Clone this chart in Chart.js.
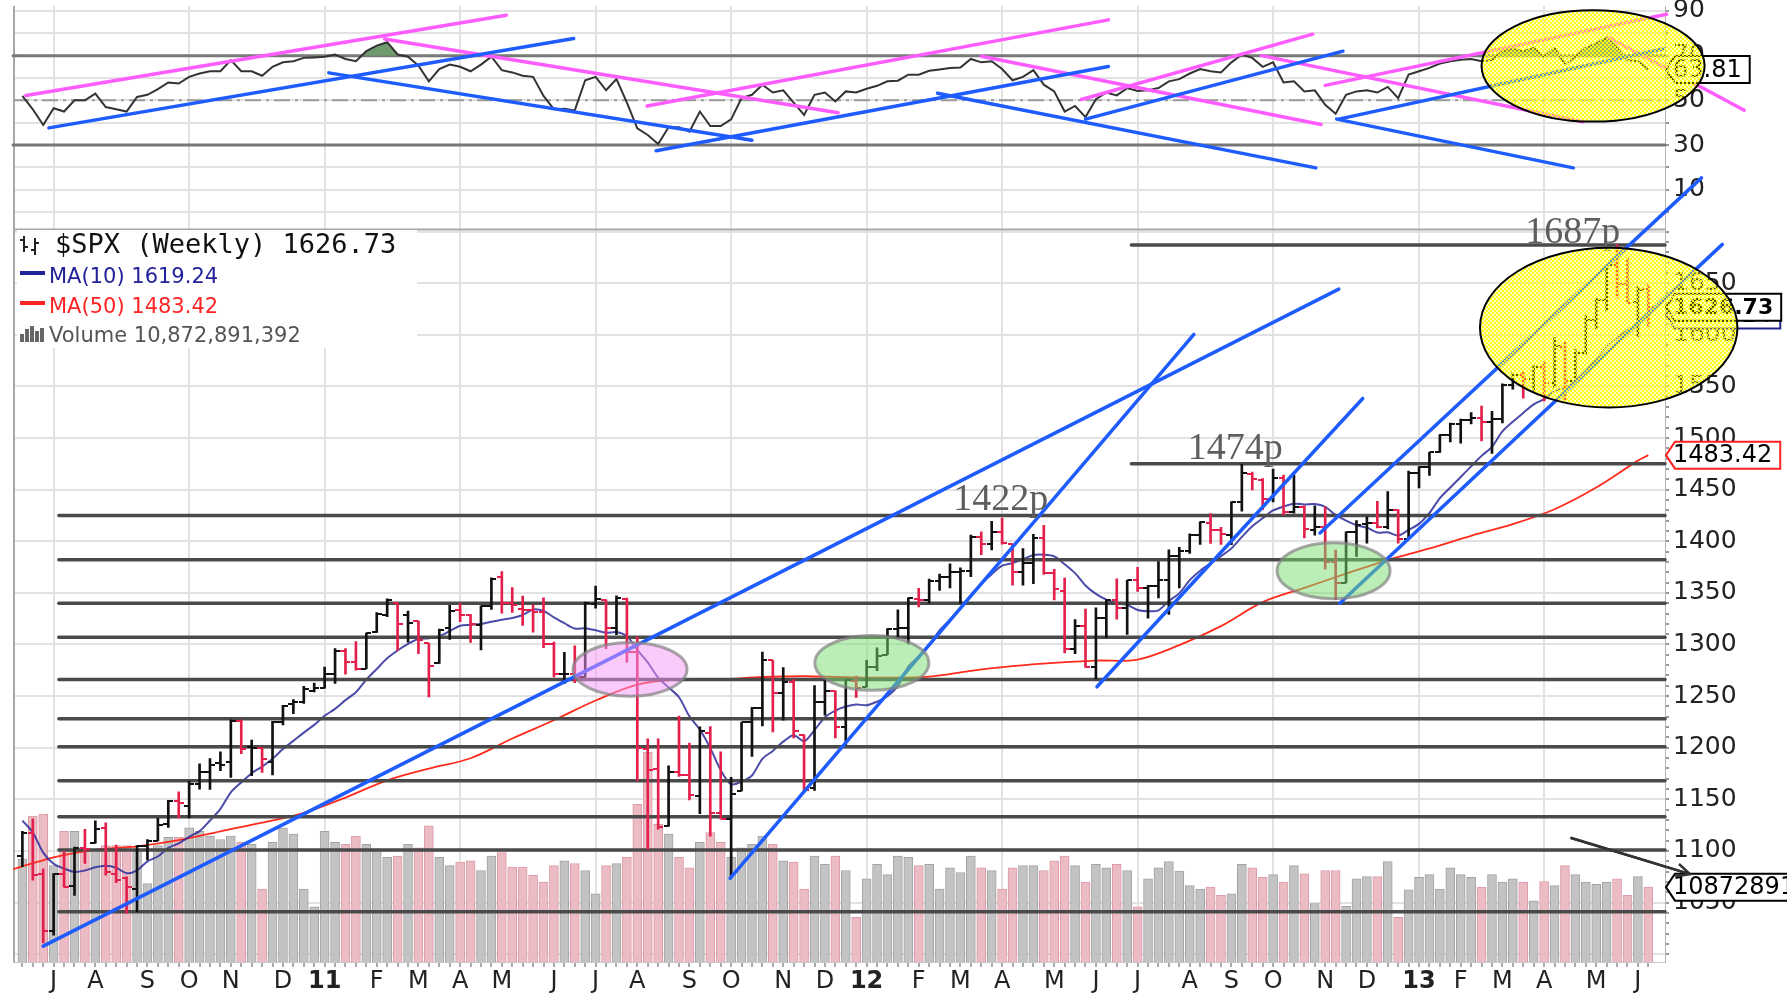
<!DOCTYPE html>
<html>
<head>
<meta charset="utf-8">
<title>$SPX Weekly</title>
<script src="https://cdn.jsdelivr.net/npm/chart.js@4.4.1/dist/chart.umd.min.js"></script>
<style>
  html, body { margin: 0; padding: 0; background: #fff; }
  canvas { display: block; }
</style>
</head>
<body>
<canvas id="spx" width="1787" height="997"></canvas>
<script>
// week index 0 = week ending 2 Jul 2010; series run from -2 (18 Jun 2010) to 154 (14 Jun 2013)
const firstWeek = -2;
const priorClose = 1091.6;

const opens = [
  1095.0, 1117.4, 1077.5, 1022.1, 1077.2, 1066.0, 1102.9, 1107.5, 1122.1, 1077.6,
  1073.4, 1062.9, 1104.6, 1110.0, 1126.4, 1148.6, 1144.0, 1165.3, 1176.8, 1184.7,
  1185.7, 1225.6, 1200.4, 1199.8, 1186.6, 1225.0, 1242.5, 1243.9, 1254.7, 1257.6,
  1271.5, 1293.2, 1283.3, 1276.5, 1311.9, 1328.7, 1340.4, 1328.6, 1322.7, 1301.2,
  1281.7, 1315.5, 1333.6, 1329.0, 1319.1, 1337.1, 1365.2, 1340.2, 1334.8, 1333.1,
  1331.1, 1300.3, 1271.2, 1271.5, 1268.4, 1339.6, 1343.3, 1315.9, 1344.3, 1292.6,
  1198.5, 1179.0, 1123.9, 1176.7, 1173.6, 1153.5, 1214.0, 1136.9, 1131.2, 1158.2,
  1224.5, 1238.7, 1284.6, 1253.2, 1263.9, 1212.5, 1161.4, 1244.3, 1255.1, 1219.7,
  1265.0, 1258.9, 1277.8, 1290.2, 1315.3, 1316.2, 1344.3, 1343.1, 1361.2, 1365.2,
  1370.0, 1370.8, 1404.2, 1397.1, 1408.5, 1397.5, 1370.3, 1378.9, 1403.3, 1368.8,
  1351.9, 1295.2, 1317.8, 1278.0, 1325.7, 1342.6, 1334.9, 1362.3, 1354.7, 1356.5,
  1362.3, 1385.9, 1391.0, 1405.9, 1418.1, 1411.1, 1406.5, 1437.9, 1465.4, 1459.5,
  1440.9, 1460.9, 1428.8, 1433.2, 1411.3, 1414.0, 1379.9, 1359.9, 1409.2, 1416.3,
  1418.1, 1413.5, 1430.2, 1402.4, 1466.5, 1472.1, 1486.0, 1503.0, 1513.2, 1517.9,
  1519.8, 1515.6, 1518.2, 1551.2, 1560.7, 1556.9, 1569.2, 1553.3, 1588.6, 1555.3,
  1582.3, 1614.4, 1633.7, 1667.5, 1649.6, 1631.7, 1644.0
];
const highs = [
  1119.1, 1131.2, 1082.6, 1078.0, 1099.1, 1103.7, 1120.9, 1129.2, 1127.2, 1105.7,
  1075.0, 1105.1, 1110.9, 1131.5, 1148.9, 1157.2, 1167.7, 1184.4, 1189.4, 1196.1,
  1227.1, 1226.8, 1207.4, 1200.0, 1225.6, 1241.0, 1246.7, 1259.4, 1262.6, 1278.2,
  1296.0, 1296.1, 1302.7, 1311.0, 1330.8, 1344.1, 1340.4, 1332.3, 1322.7, 1301.2,
  1314.8, 1337.9, 1339.5, 1329.0, 1337.5, 1364.6, 1370.6, 1355.0, 1346.8, 1338.5,
  1345.2, 1302.2, 1292.5, 1298.6, 1341.0, 1356.5, 1343.3, 1347.0, 1345.0, 1307.4,
  1208.5, 1208.5, 1182.5, 1230.7, 1204.4, 1220.1, 1220.4, 1195.9, 1171.4, 1224.6,
  1239.0, 1292.7, 1284.6, 1277.6, 1266.0, 1212.5, 1260.1, 1267.1, 1255.1, 1265.4,
  1269.4, 1284.6, 1296.8, 1315.5, 1333.5, 1345.3, 1354.3, 1363.4, 1368.1, 1378.0,
  1374.2, 1406.0, 1409.0, 1419.2, 1422.4, 1397.5, 1392.8, 1406.6, 1415.3, 1372.9,
  1364.4, 1324.2, 1334.4, 1335.5, 1343.3, 1363.5, 1362.2, 1374.8, 1357.4, 1380.4,
  1391.7, 1394.2, 1407.1, 1418.7, 1426.7, 1413.5, 1438.2, 1474.5, 1467.1, 1460.7,
  1470.0, 1464.0, 1464.0, 1434.2, 1434.3, 1433.4, 1391.4, 1409.2, 1420.0, 1423.7,
  1438.6, 1448.0, 1430.7, 1467.9, 1472.3, 1486.2, 1503.3, 1514.4, 1518.3, 1524.7,
  1530.9, 1525.8, 1552.5, 1563.6, 1564.0, 1570.3, 1573.7, 1597.4, 1593.0, 1585.6,
  1618.5, 1635.0, 1667.5, 1687.2, 1674.2, 1646.5, 1648.7
];
const lows = [
  1084.8, 1071.6, 1010.9, 1018.4, 1064.9, 1056.9, 1088.0, 1107.5, 1076.6, 1069.2,
  1039.7, 1040.9, 1091.4, 1110.0, 1122.8, 1131.9, 1131.9, 1159.9, 1159.7, 1177.7,
  1171.2, 1194.1, 1173.0, 1176.0, 1173.6, 1222.0, 1232.9, 1243.0, 1254.0, 1257.6,
  1262.2, 1271.3, 1275.1, 1276.5, 1311.7, 1326.9, 1294.3, 1302.3, 1291.0, 1249.1,
  1281.7, 1304.9, 1322.0, 1302.1, 1294.7, 1334.0, 1330.4, 1331.0, 1318.5, 1311.8,
  1297.0, 1268.5, 1262.0, 1262.9, 1268.4, 1335.2, 1295.9, 1309.6, 1282.9, 1168.1,
  1101.5, 1121.1, 1123.9, 1172.1, 1149.4, 1136.2, 1114.2, 1131.1, 1074.8, 1158.2,
  1191.5, 1221.1, 1215.4, 1226.6, 1209.4, 1158.7, 1158.7, 1231.5, 1209.5, 1202.4,
  1248.6, 1258.9, 1274.7, 1290.2, 1306.1, 1300.5, 1336.4, 1340.0, 1352.3, 1354.9,
  1340.0, 1365.8, 1386.9, 1391.6, 1397.1, 1357.4, 1357.4, 1358.8, 1367.8, 1343.1,
  1291.9, 1291.0, 1277.8, 1266.7, 1306.6, 1324.4, 1309.7, 1351.5, 1325.4, 1345.1,
  1329.2, 1354.7, 1388.1, 1397.0, 1398.0, 1397.0, 1396.6, 1429.1, 1449.6, 1430.5,
  1438.1, 1425.5, 1427.2, 1403.3, 1405.9, 1373.0, 1343.4, 1359.9, 1385.4, 1398.2,
  1413.0, 1411.9, 1398.1, 1402.4, 1451.6, 1463.8, 1486.0, 1496.3, 1495.0, 1513.6,
  1497.3, 1485.0, 1514.7, 1547.4, 1538.6, 1546.2, 1536.0, 1548.7, 1536.0, 1555.3,
  1581.3, 1605.9, 1622.9, 1635.5, 1630.7, 1598.2, 1608.0
];
const closes = [
  1117.5, 1076.8, 1022.6, 1078.0, 1064.9, 1102.7, 1101.6, 1121.6, 1079.3, 1071.7,
  1064.6, 1104.5, 1109.6, 1125.6, 1148.7, 1146.2, 1165.2, 1176.2, 1183.1, 1183.3,
  1225.9, 1199.2, 1199.7, 1189.4, 1224.7, 1240.4, 1243.9, 1256.8, 1257.6, 1271.5,
  1293.2, 1283.4, 1276.3, 1310.9, 1329.2, 1343.0, 1319.9, 1321.2, 1304.3, 1279.2,
  1313.8, 1332.4, 1328.2, 1319.7, 1337.4, 1363.6, 1340.2, 1337.8, 1333.3, 1331.1,
  1300.2, 1271.0, 1271.5, 1268.5, 1339.7, 1343.8, 1316.1, 1345.0, 1292.3, 1199.4,
  1178.8, 1123.5, 1176.8, 1174.0, 1154.2, 1216.0, 1136.4, 1131.4, 1155.5, 1224.6,
  1238.3, 1285.1, 1253.2, 1263.9, 1215.7, 1158.7, 1244.3, 1255.2, 1219.7, 1265.3,
  1257.6, 1277.8, 1289.1, 1315.4, 1316.3, 1344.9, 1342.6, 1361.2, 1365.7, 1370.0,
  1370.9, 1404.2, 1397.1, 1408.5, 1398.1, 1370.3, 1378.5, 1403.4, 1369.1, 1353.4,
  1295.2, 1317.8, 1278.0, 1325.7, 1342.8, 1335.0, 1362.2, 1354.7, 1356.8, 1362.7,
  1386.0, 1391.0, 1405.9, 1418.2, 1411.1, 1406.6, 1437.9, 1465.8, 1460.2, 1440.7,
  1460.9, 1428.6, 1433.2, 1411.9, 1414.2, 1379.9, 1359.9, 1409.2, 1416.2, 1418.1,
  1413.6, 1430.2, 1402.4, 1466.5, 1472.1, 1486.0, 1503.0, 1513.2, 1517.9, 1519.8,
  1515.6, 1518.2, 1551.2, 1560.7, 1556.9, 1569.2, 1553.3, 1588.9, 1555.3, 1582.2,
  1614.4, 1633.7, 1667.5, 1649.6, 1630.7, 1643.4, 1626.7
];
// weekly volume, billions of shares
const volume = [
  15.0, 21.2, 21.5, 14.0, 19.0, 19.0, 16.2, 16.4, 16.9, 16.9,
  16.9, 16.4, 11.4, 16.9, 18.1, 18.1, 19.5, 19.0, 18.3, 17.8,
  18.3, 17.4, 17.1, 10.6, 17.4, 19.5, 18.6, 10.6, 8.0, 19.0,
  17.4, 17.1, 18.3, 17.1, 16.4, 15.2, 15.4, 17.1, 16.6, 19.8,
  15.2, 14.0, 14.5, 14.7, 13.3, 15.4, 15.9, 13.8, 13.8, 12.6,
  11.6, 14.0, 14.7, 14.3, 13.3, 9.9, 14.0, 14.3, 15.2, 22.9,
  30.5, 20.0, 18.6, 15.2, 13.7, 17.4, 18.8, 17.4, 15.2, 16.6,
  17.1, 18.3, 17.1, 14.7, 14.5, 10.6, 15.4, 14.2, 15.4, 13.3,
  6.5, 12.1, 14.2, 12.7, 15.4, 15.2, 14.0, 14.2, 10.6, 13.7,
  13.0, 15.4, 13.7, 13.3, 10.6, 13.7, 14.0, 14.0, 13.3, 14.7,
  15.4, 14.0, 11.6, 14.2, 13.7, 14.2, 13.3, 8.0, 12.1, 13.7,
  14.6, 13.2, 11.1, 10.6, 10.9, 9.7, 9.9, 14.2, 13.7, 12.3,
  12.7, 11.6, 14.0, 12.8, 8.5, 13.3, 13.3, 8.1, 12.1, 12.4,
  12.4, 14.6, 6.5, 10.5, 12.3, 12.7, 10.6, 13.7, 12.7, 12.3,
  10.9, 12.7, 11.6, 12.1, 11.6, 8.9, 11.7, 11.1, 14.0, 12.7,
  11.6, 11.3, 11.6, 12.1, 9.7, 12.4, 10.87
];
const ma10 = [
  1129.4, 1117.9, 1098.4, 1087.5, 1082.9, 1079.6, 1081.0, 1084.2, 1085.7, 1083.7,
  1078.4, 1081.2, 1089.9, 1094.6, 1103.0, 1107.3, 1113.7, 1119.2, 1129.5, 1140.7,
  1156.8, 1166.3, 1175.3, 1181.7, 1189.3, 1198.7, 1206.6, 1214.6, 1222.1, 1230.9,
  1237.6, 1246.1, 1253.7, 1265.9, 1276.3, 1286.6, 1294.2, 1300.6, 1305.3, 1306.1,
  1308.1, 1313.0, 1318.2, 1319.1, 1319.9, 1322.0, 1324.0, 1325.7, 1328.6, 1333.8,
  1332.4, 1326.3, 1320.6, 1315.5, 1315.7, 1313.7, 1311.3, 1312.0, 1307.9, 1294.8,
  1282.6, 1267.9, 1258.4, 1248.9, 1230.4, 1217.6, 1199.6, 1178.3, 1164.6, 1167.1,
  1173.1, 1189.2, 1196.9, 1205.9, 1212.0, 1206.3, 1217.1, 1229.5, 1235.9, 1239.9,
  1241.9, 1241.1, 1244.7, 1249.9, 1259.9, 1278.6, 1288.4, 1299.0, 1313.6, 1324.1,
  1335.4, 1348.0, 1358.8, 1368.1, 1376.3, 1378.9, 1382.5, 1386.7, 1387.0, 1385.4,
  1377.8, 1369.1, 1357.2, 1349.0, 1343.4, 1339.9, 1338.3, 1333.4, 1332.2, 1333.1,
  1342.2, 1349.5, 1362.3, 1371.5, 1378.4, 1385.5, 1393.1, 1404.2, 1414.5, 1422.3,
  1429.8, 1433.6, 1436.3, 1435.7, 1436.0, 1433.3, 1425.5, 1419.9, 1415.5, 1413.2,
  1408.5, 1408.6, 1405.6, 1411.0, 1416.8, 1427.4, 1441.7, 1452.1, 1462.3, 1472.5,
  1482.7, 1491.5, 1506.4, 1515.8, 1524.3, 1532.6, 1537.6, 1545.2, 1548.9, 1555.2,
  1565.0, 1576.6, 1588.2, 1597.1, 1604.5, 1611.9, 1619.24
];
const ma50Weeks = [-3, 1, 5, 9, 13, 17, 21, 25, 29, 33, 37, 41, 45, 49, 53, 57, 61, 65, 69, 73, 77,
  81, 85, 89, 93, 97, 101, 105, 109, 113, 117, 121, 125, 129, 133, 137, 141, 145, 149, 153, 154];
const ma50 = [1081.9, 1093.8, 1101.1, 1104.4, 1110.4, 1119.0, 1127.4, 1136.9, 1151.7, 1168.3, 1179.7,
  1189.8, 1208.9, 1226.6, 1245.7, 1261.2, 1266.2, 1266.2, 1268.5, 1269.2, 1268.3, 1267.8, 1268.9,
  1274.5, 1279.0, 1282.2, 1284.4, 1285.4, 1299.4, 1317.8, 1341.0, 1354.8, 1368.6, 1381.8, 1393.0,
  1405.3, 1416.6, 1431.0, 1452.0, 1478.1, 1483.42];
const rsi = [
  52, 46, 39, 46.5, 45, 50, 50, 53, 47, 46,
  45, 51.5, 52.5, 55, 58, 57.5, 60.5, 62, 63, 63,
  68, 63, 63, 61, 65, 67, 67.5, 69, 69.2, 69.5,
  70.5, 68.5, 67.5, 72, 74.5, 76, 70.5, 69.5, 65.5, 58.5,
  64, 66, 65, 63, 66, 69.5, 63.5, 62.5, 61, 60.5,
  52, 46, 46.2, 45.5, 59, 60.5, 54.5, 59.5, 49, 37.5,
  34.5, 30.5, 38, 38, 36, 45, 38.5, 38.5, 41.5, 51,
  52.5, 57, 53.5, 54.5, 49, 43.5, 52.5, 53.5, 49.5, 54,
  53.5, 55.2, 56.5, 58.5, 58.8, 61.5, 61.5, 63.2, 63.8, 64.5,
  64.7, 68.5, 67, 67.5, 64, 59, 60.5, 63.5, 57, 54,
  45, 47.5, 42.5, 50.5, 53.5, 52.2, 55.5, 54.2, 54.5, 55.5,
  58.5, 59.5, 62, 64, 63, 62.5, 67, 70.5, 69, 65,
  67, 58, 58.5, 54, 54.5, 48, 44, 52.5, 54, 54.5,
  53.5, 56, 51, 61.5, 63, 64.5, 66.5, 67.5, 68.2, 68.5,
  67.5, 68, 72, 73, 72, 73.5, 69.5, 73.5, 66, 69.5,
  73.5, 75.5, 78, 73.5, 68, 67.5, 63.81
];

// x-axis: first weekly bar of each month
const monthTicks = [[1, 'J'], [5, 'A'], [10, 'S'], [14, 'O'], [18, 'N'], [23, 'D'], [27, '11'], [32, 'F'],
  [36, 'M'], [40, 'A'], [44, 'M'], [49, 'J'], [53, 'J'], [57, 'A'], [62, 'S'], [66, 'O'], [71, 'N'],
  [75, 'D'], [79, '12'], [84, 'F'], [88, 'M'], [92, 'A'], [97, 'M'], [101, 'J'], [105, 'J'], [110, 'A'],
  [114, 'S'], [118, 'O'], [123, 'N'], [127, 'D'], [132, '13'], [136, 'F'], [140, 'M'], [144, 'A'],
  [149, 'M'], [153, 'J']];
const quarterWeeks = [1, 14, 27, 40, 53, 66, 79, 92, 105, 118, 132, 144];
const yearWeeks = [27, 79, 132];
const priceLabels = [1050, 1100, 1150, 1200, 1250, 1300, 1350, 1400, 1450, 1500, 1550, 1600, 1650];
const rsiLabels = [10, 30, 50, 70, 90];
const rsiGrid = [0, 10, 20, 30, 40, 50, 60, 70, 80, 90];

// drawn levels and trendlines: [week, value]
const levels = [1425, 1382, 1340, 1307, 1266, 1228, 1201, 1168, 1133, 1101, 1041];
const lateLevels = [1475, 1687];
const levelStart = 1.5, lateStart = 104.4;
const priceTrends = [
  [[0.0, 1007.8], [124.3, 1644.2]],
  [[65.9, 1073.5], [110.4, 1600.3]],
  [[101.1, 1259.0], [126.6, 1538.3]],
  [[122.5, 1408.0], [159.1, 1752.0]],
  [[124.4, 1340.0], [161.1, 1687.6]]
];
const rsiPinkTrends = [
  [[-1.67, 52.2], [44.43, 88.1]],
  [[32.75, 77.4], [76.27, 44.5]],
  [[57.93, 47.5], [102.2, 86.0]],
  [[90.0, 69.7], [122.6, 39.2]],
  [[99.6, 50.4], [121.8, 79.6]],
  [[116.9, 70.0], [147.7, 40.4]],
  [[123.0, 56.7], [155.75, 88.5]],
  [[150.2, 78.1], [163.2, 45.6]]
];
const rsiBlueTrends = [
  [[0.54, 37.7], [50.9, 77.7]],
  [[27.4, 62.3], [68.0, 32.2]],
  [[58.8, 27.5], [102.2, 65.1]],
  [[85.8, 53.2], [122.1, 19.8]],
  [[100.0, 41.6], [124.7, 72.0]],
  [[124.1, 41.6], [146.8, 19.8]],
  [[124.3, 41.6], [155.5, 73.1]]
];
const arrowPts = [[146.6, 1112.5], [158.0, 1077.5]];

const peakNotes = [
  {text: '1422p', x: 87.3, y: 1430.5},
  {text: '1474p', x: 109.8, y: 1480},
  {text: '1687p', x: 142.2, y: 1689}
];
const ellipses = [
  {axis: 'yRsi', x: 148.7, y: 65.4, rx: 10.7, ry: 24.9, kind: 'dots'},
  {axis: 'yPrice', x: 150.2, y: 1606.9, rx: 12.35, ry: 77.3, kind: 'dots'},
  {axis: 'yPrice', x: 56.3, y: 1275.9, rx: 5.47, ry: 26.0, kind: 'pink'},
  {axis: 'yPrice', x: 79.5, y: 1282.1, rx: 5.47, ry: 26.5, kind: 'green'},
  {axis: 'yPrice', x: 123.8, y: 1371.4, rx: 5.42, ry: 27.2, kind: 'green'}
];
const valueTags = [
  {axis: 'yRsi', value: 63.81, text: '63.81', edge: '#000', bold: false},
  {axis: 'yPrice', value: 1619.24, text: '1619.24', edge: '#22228c', bold: false},
  {axis: 'yPrice', value: 1626.73, text: '1626.73', edge: '#000', bold: true},
  {axis: 'yPrice', value: 1483.42, text: '1483.42', edge: '#ff2020', bold: false},
  {axis: 'yVol', value: 10.872891392, text: '10872891392', edge: '#000', bold: false}
];
const legendTitle = '$SPX (Weekly) 1626.73';
const legendMa10 = 'MA(10) 1619.24';
const legendMa50 = 'MA(50) 1483.42';
const legendVol = 'Volume 10,872,891,392';

// axis ranges
const xMin = -2.9, xMax = 155.6;
const rsiMin = -7.8, rsiMax = 92.2;
const priceMin = 992.4, priceMax = 1701.9;
const volMax = 138.9;
const axisWidth = 122;

const barBlack = '#111111', barRed = '#e3204b';
const blue = '#1f5cff', magenta = '#ff5cff';

Chart.defaults.font.family = '"DejaVu Sans", sans-serif';
Chart.defaults.color = '#222';

const weeks = closes.map((c, k) => firstWeek + k);
const isUp = closes.map((c, k) => c >= (k === 0 ? priorClose : closes[k - 1]));
const monthLabel = new Map(monthTicks);
const priceMinor = [];
for (let v = 1000; v <= 1700; v += 10) priceMinor.push(v);

const pts = (xs, ys) => xs.map((x, k) => ({x, y: ys[k]}));

function tickImg(color, left) {
  const c = document.createElement('canvas');
  c.width = 10; c.height = 2;
  const g = c.getContext('2d');
  g.fillStyle = color;
  g.fillRect(left ? 0 : 5, 0, 5, 2);
  return c;
}
const openBlack = tickImg(barBlack, true), openRed = tickImg(barRed, true);
const closeBlack = tickImg(barBlack, false), closeRed = tickImg(barRed, false);

function segment(p, axis, color, width, order) {
  return {
    type: 'line', yAxisID: axis, data: p.map(q => ({x: q[0], y: q[1]})),
    borderColor: color, borderWidth: width, pointRadius: 0, clip: false,
    borderCapStyle: 'round', order
  };
}

const datasets = [];
datasets.push({
  type: 'bar', label: 'Volume', yAxisID: 'yVol', data: pts(weeks, volume),
  backgroundColor: isUp.map(u => u ? '#c3c3c3' : '#ecbcc4'),
  borderColor: isUp.map(u => u ? '#a3a3a3' : '#dc9aa6'),
  borderWidth: 1, barThickness: 9, maxBarThickness: 9, grouped: false, order: 100
});
datasets.push({
  type: 'line', label: 'MA(50)', yAxisID: 'yPrice', data: pts(ma50Weeks, ma50),
  borderColor: '#ff2b1c', borderWidth: 1.8, pointRadius: 0, tension: 0.35, order: 60
});
datasets.push({
  type: 'line', label: 'MA(10)', yAxisID: 'yPrice', data: pts(weeks, ma10),
  borderColor: 'rgba(43,43,154,0.85)', borderWidth: 2, pointRadius: 0, tension: 0.3, order: 59
});
levels.forEach(v => datasets.push(segment([[levelStart, v], [xMax, v]], 'yPrice', '#4a4a4a', 3.5, 40)));
lateLevels.forEach(v => datasets.push(segment([[lateStart, v], [xMax, v]], 'yPrice', '#4a4a4a', 3.5, 40)));
datasets.push({
  type: 'bar', label: '$SPX', yAxisID: 'yPrice',
  data: weeks.map((w, k) => ({x: w, y: [lows[k], highs[k]]})),
  backgroundColor: isUp.map(u => u ? barBlack : barRed),
  borderWidth: 0, barThickness: 2, maxBarThickness: 2, grouped: false, order: 30
});
datasets.push({
  type: 'line', label: 'Open', yAxisID: 'yPrice', showLine: false, data: pts(weeks, opens),
  pointStyle: isUp.map(u => u ? openBlack : openRed), pointRadius: 5, order: 29
});
datasets.push({
  type: 'line', label: 'Close', yAxisID: 'yPrice', showLine: false, data: pts(weeks, closes),
  pointStyle: isUp.map(u => u ? closeBlack : closeRed), pointRadius: 5, order: 29
});
// RSI panel
[70, 30].forEach(v => datasets.push(segment([[xMin, v], [xMax, v]], 'yRsi', '#777', 3, 55)));
datasets.push(Object.assign(segment([[xMin, 50], [xMax, 50]], 'yRsi', '#9a9a9a', 2, 55),
  {borderDash: [16, 5, 3, 5], borderCapStyle: 'butt'}));
datasets.push({
  type: 'line', label: 'RSI(14)', yAxisID: 'yRsi', data: pts(weeks, rsi),
  borderColor: '#333', borderWidth: 2, pointRadius: 0,
  fill: {target: {value: 70}, above: '#6f9b6f', below: 'rgba(0,0,0,0)'}, order: 50
});
rsiPinkTrends.forEach(p => datasets.push(segment(p, 'yRsi', magenta, 3.5, 12)));
rsiBlueTrends.forEach(p => datasets.push(segment(p, 'yRsi', blue, 3.5, 11)));
priceTrends.forEach(p => datasets.push(segment(p, 'yPrice', blue, 3.5, 10)));
datasets.push(segment(arrowPts, 'yPrice', '#333', 2.5, 5));

function drawTag(ctx, x, y, t) {
  ctx.save();
  ctx.font = t.bold ? 'bold 22px "DejaVu Sans"' : '24px "DejaVu Sans"';
  const w = ctx.measureText(t.text).width;
  const h = 27, tip = 9, x1 = x + 7 + w + 8;
  ctx.beginPath();
  ctx.moveTo(x, y);
  ctx.lineTo(x + tip, y - h / 2);
  ctx.lineTo(x1, y - h / 2);
  ctx.lineTo(x1, y + h / 2);
  ctx.lineTo(x + tip, y + h / 2);
  ctx.closePath();
  ctx.fillStyle = '#fff';
  ctx.fill();
  ctx.lineWidth = 2;
  ctx.strokeStyle = t.edge;
  ctx.stroke();
  ctx.fillStyle = '#000';
  ctx.textBaseline = 'middle';
  ctx.textAlign = 'left';
  ctx.fillText(t.text, x + 7, y + 1);
  ctx.restore();
}

function drawLegend(ctx, a) {
  ctx.save();
  ctx.textAlign = 'left';
  ctx.textBaseline = 'alphabetic';
  ctx.fillStyle = '#fff';
  ctx.fillRect(a.left + 4, 230, 400, 118);
  // OHLC glyph
  ctx.strokeStyle = '#222'; ctx.lineWidth = 2;
  ctx.beginPath();
  ctx.moveTo(24, 236); ctx.lineTo(24, 252); ctx.moveTo(20, 240); ctx.lineTo(24, 240); ctx.moveTo(24, 247); ctx.lineTo(28, 247);
  ctx.moveTo(35, 238); ctx.lineTo(35, 255); ctx.moveTo(31, 250); ctx.lineTo(35, 250); ctx.moveTo(35, 243); ctx.lineTo(39, 243);
  ctx.stroke();
  ctx.font = '27px "DejaVu Sans Mono"';
  ctx.fillStyle = '#111';
  ctx.fillText(legendTitle, 55, 253);
  ctx.font = '21px "DejaVu Sans"';
  ctx.fillStyle = '#22229a';
  ctx.fillRect(20, 271, 25, 4);
  ctx.fillText(legendMa10, 49, 283);
  ctx.fillStyle = '#ff2424';
  ctx.fillRect(20, 301, 25, 4);
  ctx.fillText(legendMa50, 49, 313);
  ctx.fillStyle = '#666';
  [8, 13, 16, 11, 14].forEach((hh, k) => ctx.fillRect(20 + k * 5, 342 - hh, 4, hh));
  ctx.fillStyle = '#555';
  ctx.fillText(legendVol, 49, 342);
  ctx.restore();
}

function drawPeaks(ctx, s) {
  ctx.save();
  ctx.font = '38px "Liberation Serif"';
  ctx.fillStyle = '#5e5e5e';
  ctx.textAlign = 'left';
  ctx.textBaseline = 'alphabetic';
  peakNotes.forEach(n => ctx.fillText(n.text, s.x.getPixelForValue(n.x), s.yPrice.getPixelForValue(n.y)));
  ctx.restore();
}

function drawArrowHead(ctx, s) {
  const x0 = s.x.getPixelForValue(arrowPts[0][0]), y0 = s.yPrice.getPixelForValue(arrowPts[0][1]);
  const x1 = s.x.getPixelForValue(arrowPts[1][0]), y1 = s.yPrice.getPixelForValue(arrowPts[1][1]);
  const ang = Math.atan2(y1 - y0, x1 - x0), len = 15, spread = 0.45;
  ctx.save();
  ctx.strokeStyle = '#333';
  ctx.lineWidth = 2.5;
  ctx.beginPath();
  ctx.moveTo(x0, y0); ctx.lineTo(x1, y1);
  ctx.moveTo(x1 - len * Math.cos(ang - spread), y1 - len * Math.sin(ang - spread));
  ctx.lineTo(x1, y1);
  ctx.lineTo(x1 - len * Math.cos(ang + spread), y1 - len * Math.sin(ang + spread));
  ctx.stroke();
  ctx.restore();
}

let dots = null;
function dotPattern(ctx) {
  if (!dots) {
    const c = document.createElement('canvas');
    c.width = 4; c.height = 4;
    const g = c.getContext('2d');
    g.fillStyle = '#ffff1e';
    g.fillRect(0, 0, 2, 2);
    g.fillRect(2, 2, 2, 2);
    dots = ctx.createPattern(c, 'repeat');
  }
  return dots;
}

function drawEllipse(ctx, s, e) {
  const ys = s[e.axis];
  const cx = s.x.getPixelForValue(e.x), cy = ys.getPixelForValue(e.y);
  const rx = Math.abs(s.x.getPixelForValue(e.x + e.rx) - cx);
  const ry = Math.abs(ys.getPixelForValue(e.y + e.ry) - cy);
  ctx.save();
  ctx.beginPath();
  ctx.ellipse(cx, cy, rx, ry, 0, 0, Math.PI * 2);
  if (e.kind === 'dots') {
    ctx.fillStyle = 'rgba(255,255,40,0.3)';
    ctx.fill();
    ctx.fillStyle = dotPattern(ctx);
    ctx.fill();
    ctx.lineWidth = 2;
    ctx.strokeStyle = '#000';
  } else {
    ctx.fillStyle = e.kind === 'pink' ? 'rgba(245,150,245,0.5)' : 'rgba(120,220,110,0.5)';
    ctx.fill();
    ctx.lineWidth = 3;
    ctx.strokeStyle = 'rgba(130,130,130,0.7)';
  }
  ctx.stroke();
  ctx.restore();
}

const overlay = {
  id: 'overlay',
  beforeDatasetsDraw(chart) {
    const {ctx, chartArea: a, scales} = chart;
    ctx.save();
    ctx.strokeStyle = '#a8a8a8';
    ctx.lineWidth = 2;
    ctx.beginPath();
    ctx.moveTo(a.left, scales.yPrice.top);
    ctx.lineTo(a.right, scales.yPrice.top);
    ctx.moveTo(a.left + 1, a.top);
    ctx.lineTo(a.left + 1, a.bottom);
    ctx.stroke();
    ctx.restore();
  },
  afterDraw(chart) {
    const {ctx, chartArea: a, scales} = chart;
    drawLegend(ctx, a);
    drawPeaks(ctx, scales);
    valueTags.forEach(t => drawTag(ctx, a.right + 1, scales[t.axis].getPixelForValue(t.value), t));
    drawArrowHead(ctx, scales);
    ellipses.forEach(e => drawEllipse(ctx, scales, e));
  }
};

const noPad = s => { s.paddingTop = 0; s.paddingBottom = 0; s.paddingLeft = 0; s.paddingRight = 0; };

new Chart(document.getElementById('spx'), {
  type: 'line',
  data: {datasets},
  options: {
    responsive: false,
    animation: false,
    devicePixelRatio: 1,
    events: [],
    layout: {padding: {left: 13, right: 0, top: 0, bottom: 0}},
    plugins: {legend: {display: false}, tooltip: {enabled: false}},
    scales: {
      x: {
        type: 'linear', min: xMin, max: xMax, offset: false,
        afterBuildTicks: s => { s.ticks = weeks.map(v => ({value: v})); },
        afterFit: s => { s.height = 35; noPad(s); },
        grid: {
          offset: false, lineWidth: 2, tickLength: 5, tickColor: '#aaa',
          color: c => (c.tick && quarterWeeks.includes(c.tick.value)) ? '#e2e2e2' : 'rgba(0,0,0,0)'
        },
        border: {color: '#c8c8c8'},
        ticks: {
          autoSkip: false, maxRotation: 0, minRotation: 0, padding: 0, color: '#222',
          font: c => ({size: 24, weight: (c.tick && yearWeeks.includes(c.tick.value)) ? 'bold' : 'normal'}),
          callback: v => monthLabel.get(v) || ''
        }
      },
      yRsi: {
        type: 'linear', position: 'right', stack: 'panels', stackWeight: 225,
        min: rsiMin, max: rsiMax,
        afterBuildTicks: s => { s.ticks = rsiGrid.map(v => ({value: v})); },
        afterFit: s => { s.width = axisWidth; noPad(s); },
        grid: {color: '#e2e2e2', lineWidth: 2, tickLength: 4, tickColor: '#999'},
        border: {color: '#b5b5b5'},
        ticks: {autoSkip: false, padding: 4, color: '#222', font: {size: 25},
          callback: v => rsiLabels.includes(v) ? String(v) : ''}
      },
      yPrice: {
        type: 'linear', position: 'right', stack: 'panels', stackWeight: 737,
        min: priceMin, max: priceMax,
        afterBuildTicks: s => { s.ticks = priceMinor.map(v => ({value: v})); },
        afterFit: s => { s.width = axisWidth; noPad(s); },
        grid: {
          lineWidth: 2, tickLength: 4, tickColor: '#999',
          color: c => (c.tick && c.tick.value % 50 === 0) ? '#e2e2e2' : 'rgba(0,0,0,0)'
        },
        border: {color: '#b5b5b5'},
        ticks: {autoSkip: false, padding: 4, color: '#222', font: {size: 25},
          callback: v => priceLabels.includes(v) ? String(v) : ''}
      },
      yVol: {type: 'linear', display: false, min: 0, max: volMax}
    }
  },
  plugins: [overlay]
});
</script>
</body>
</html>
